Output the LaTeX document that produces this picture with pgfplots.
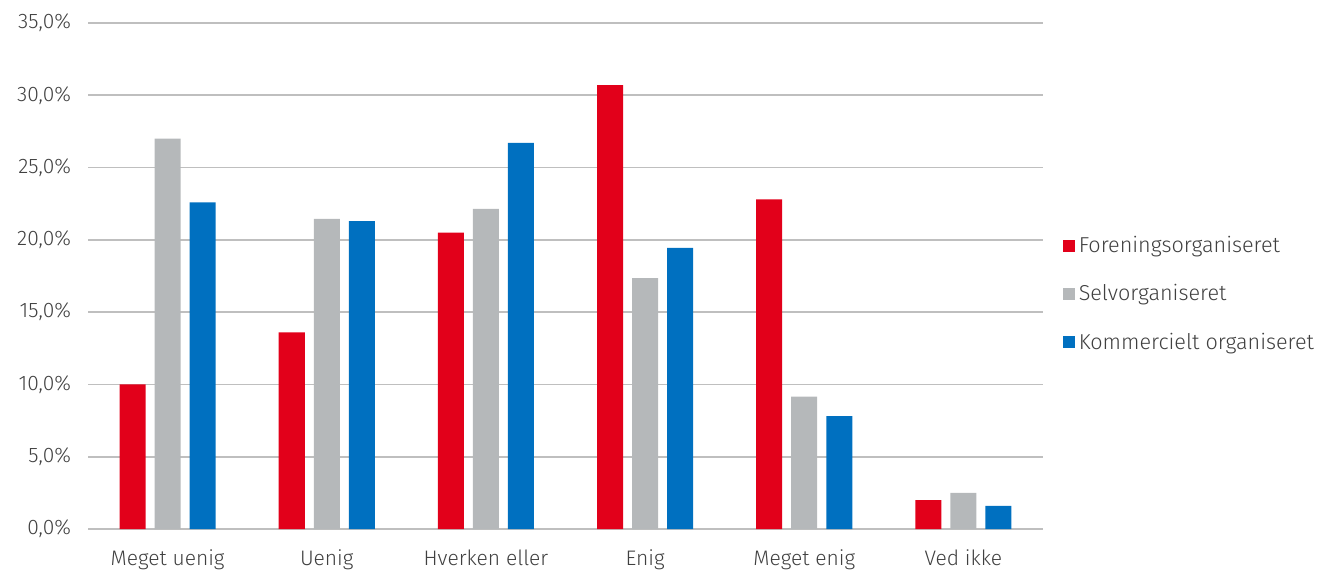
\documentclass[border=0pt]{standalone}
\usepackage{pgfplots}
\pgfplotsset{compat=1.18}
\usepackage{fontspec}
\setmainfont{Fira Sans Light}
\definecolor{cred}{HTML}{E2001A}
\definecolor{cgray}{HTML}{B5B8BA}
\definecolor{cblue}{HTML}{0070C0}
\definecolor{ctext}{HTML}{404040}
\definecolor{cgrid}{HTML}{BFBFBF}
\begin{document}
\begin{tikzpicture}[x=0.5pt,y=0.5pt]
\useasboundingbox (0,0) rectangle (1317,569);
\begin{axis}[
  at={(88pt*0.5,40pt*0.5)}, anchor=south west,
  scale only axis, width=477.5pt, height=253pt,
  ymin=0, ymax=35, ytick={0,5,...,35},
  xmin=-0.5, xmax=5.5, xtick={0,...,5},
  xticklabels={Meget uenig,Uenig,Hverken eller,Enig,Meget enig,Ved ikke},
  ybar, bar width=13pt,
  ymajorgrids, grid style={cgrid, line width=0.9pt},
  axis x line*=bottom, axis y line*=left,
  x axis line style={cgrid, line width=0.9pt, -},
  y axis line style={draw=none},
  major tick length=0pt,
  tick label style={font=\fontsize{10.5}{12}\selectfont, text=ctext},
  /pgf/number format/assume math mode=true,
  yticklabel={\pgfmathprintnumber[fixed,fixed zerofill,precision=1,use comma]{\tick}\%},
  yticklabel style={xshift=-5pt},
  xticklabel style={yshift=-7pt},
  legend style={draw=none, fill=none, at={(rel axis cs:1.014,0.464)}, anchor=west,
    font=\fontsize{10.8}{12}\selectfont, text=ctext, row sep=10.5pt,
    legend cell align=left},
  legend image code/.code={\fill[#1] (0pt,-3pt) rectangle (6pt,3pt);},
  clip=false,
]
\addplot[fill=cred, draw=none, bar shift=-17.5pt] coordinates {(0,10.0) (1,13.6) (2,20.5) (3,30.7) (4,22.8) (5,2.0)};
\addplot[fill=cgray, draw=none, bar shift=0pt] coordinates {(0,27.0) (1,21.45) (2,22.15) (3,17.35) (4,9.15) (5,2.5)};
\addplot[fill=cblue, draw=none, bar shift=17.5pt] coordinates {(0,22.6) (1,21.3) (2,26.7) (3,19.45) (4,7.8) (5,1.6)};
\legend{Foreningsorganiseret,Selvorganiseret,Kommercielt organiseret}
\end{axis}
\end{tikzpicture}
\end{document}
